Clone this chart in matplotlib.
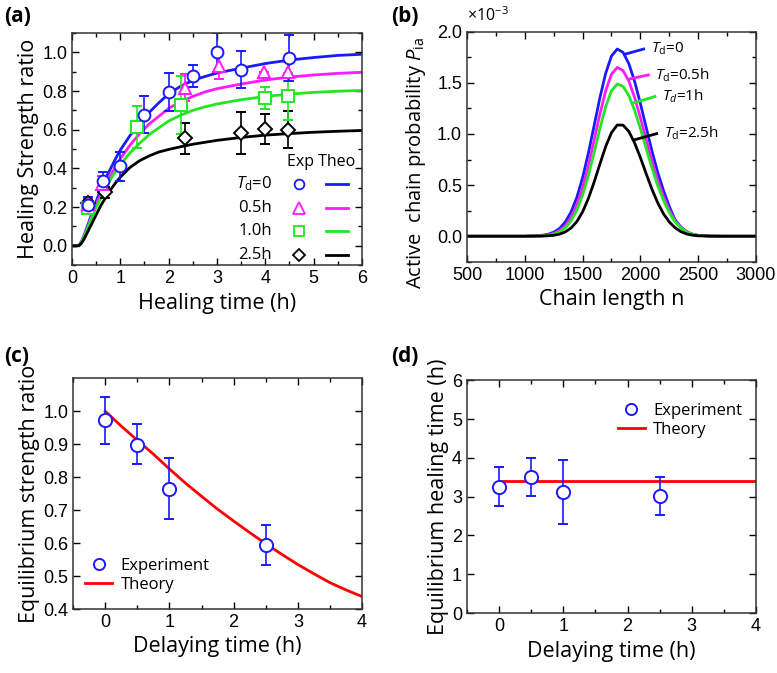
"""Four-panel healing figure: strength ratio, active chain probability, equilibrium values."""

import matplotlib
import matplotlib.pyplot as plt
from matplotlib.ticker import MultipleLocator
from matplotlib.lines import Line2D

matplotlib.use("Agg")

plt.rcParams["font.family"] = ["Liberation Sans", "DejaVu Sans"]
plt.rcParams["mathtext.fontset"] = "custom"
plt.rcParams["mathtext.it"] = "Open Sans:italic"
plt.rcParams["mathtext.rm"] = "Open Sans"

LABEL_FONT = "Open Sans"
BLUE, PINK, GREEN, BLACK, RED = "#1a1aff", "#ff1aff", "#22e622", "#000000", "#ff0000"

# ---- (a) healing strength ratio vs healing time ----
exp0_t = [0.33, 0.65, 1.0, 1.5, 2.0, 2.5, 3.0, 3.5, 4.5]
exp0_v = [0.21, 0.333, 0.41, 0.678, 0.795, 0.876, 1.0, 0.91, 0.97]
exp0_e = [0.04, 0.05, 0.075, 0.097, 0.10, 0.056, 0.10, 0.095, 0.12]

exp05_t = [0.33, 0.63, 2.34, 3.05, 3.97, 4.48]
exp05_v = [0.215, 0.32, 0.816, 0.93, 0.90, 0.90]
exp05_e = [0.03, 0.04, 0.07, 0.07, 0.0, 0.05]

exp1_t = [0.34, 1.34, 2.26, 3.99, 4.48]
exp1_v = [0.195, 0.614, 0.73, 0.764, 0.772]
exp1_e = [0.03, 0.11, 0.15, 0.058, 0.12]

exp25_t = [0.34, 0.68, 2.34, 3.49, 3.99, 4.48]
exp25_v = [0.22, 0.276, 0.557, 0.583, 0.604, 0.60]
exp25_e = [0.02, 0.03, 0.08, 0.11, 0.078, 0.095]

theo_t = [0, 0.1, 0.15, 0.2, 0.25, 0.33, 0.4, 0.5, 0.6, 0.7, 0.8, 0.9, 1.0, 1.2, 1.4,
          1.6, 1.8, 2.0, 2.25, 2.5, 2.75, 3.0, 3.5, 4.0, 4.5, 5.0, 5.5, 6.0]
theo0 = [0, 0, 0.004, 0.025, 0.055, 0.11, 0.16, 0.23, 0.295, 0.35, 0.40, 0.45, 0.495, 0.57,
         0.635, 0.69, 0.74, 0.785, 0.825, 0.855, 0.875, 0.893, 0.918, 0.942, 0.96, 0.973,
         0.984, 0.99]
theo05 = [0, 0, 0.004, 0.024, 0.052, 0.10, 0.15, 0.215, 0.27, 0.32, 0.365, 0.41, 0.45, 0.52,
          0.58, 0.63, 0.67, 0.71, 0.745, 0.772, 0.795, 0.812, 0.836, 0.857, 0.872, 0.883,
          0.891, 0.897]
theo1 = [0, 0, 0.004, 0.022, 0.048, 0.095, 0.14, 0.20, 0.25, 0.30, 0.345, 0.385, 0.42, 0.48,
         0.53, 0.575, 0.61, 0.645, 0.675, 0.70, 0.718, 0.733, 0.755, 0.772, 0.784, 0.793,
         0.799, 0.803]
theo25 = [0, 0, 0.002, 0.015, 0.035, 0.075, 0.11, 0.16, 0.21, 0.25, 0.29, 0.325, 0.355, 0.405,
          0.44, 0.465, 0.485, 0.498, 0.512, 0.525, 0.535, 0.545, 0.56, 0.572, 0.58, 0.587,
          0.592, 0.596]

legend_rows = [r"$T_{\mathrm{d}}$=0", "0.5h", "1.0h", "2.5h"]

# ---- (b) active chain probability (units of 1e-3) vs chain length ----
chain_n = [500, 1000, 1150, 1200, 1250, 1300, 1350, 1400, 1450, 1500, 1550, 1600, 1650, 1700,
           1750, 1800, 1850, 1900, 1950, 2000, 2050, 2100, 2150, 2200, 2250, 2300, 2350, 2400,
           2450, 2500, 2600, 2700, 3000]
p_td0 = [0, 0, 0.009, 0.019, 0.039, 0.075, 0.138, 0.236, 0.379, 0.572, 0.812, 1.082, 1.355,
         1.594, 1.762, 1.830, 1.797, 1.687, 1.513, 1.297, 1.063, 0.832, 0.623, 0.446, 0.29,
         0.16, 0.09, 0.045, 0.02, 0.008, 0.002, 0, 0]
p_td05 = [0, 0, 0.005, 0.012, 0.026, 0.054, 0.102, 0.182, 0.304, 0.473, 0.689, 0.939, 1.195,
          1.423, 1.584, 1.650, 1.619, 1.517, 1.357, 1.159, 0.945, 0.735, 0.546, 0.387, 0.255,
          0.15, 0.085, 0.043, 0.019, 0.008, 0.002, 0, 0]
p_td1 = [0, 0, 0.004, 0.009, 0.020, 0.042, 0.082, 0.149, 0.253, 0.401, 0.593, 0.818, 1.054,
         1.268, 1.422, 1.488, 1.465, 1.375, 1.231, 1.052, 0.857, 0.666, 0.493, 0.349, 0.23,
         0.14, 0.08, 0.04, 0.018, 0.007, 0.002, 0, 0]
p_td25 = [0, 0, 0.0015, 0.004, 0.009, 0.020, 0.042, 0.080, 0.143, 0.238, 0.369, 0.530, 0.707,
          0.878, 1.013, 1.087, 1.086, 1.024, 0.912, 0.768, 0.611, 0.459, 0.326, 0.219, 0.139,
          0.083, 0.045, 0.022, 0.01, 0.004, 0.001, 0, 0]
b_labels = [r"$T_{\mathrm{d}}$=0", r"$T_{\mathrm{d}}$=0.5h", r"$T_{d}$=1h", r"$T_{\mathrm{d}}$=2.5h"]

# ---- (c) equilibrium strength ratio vs delaying time ----
delay_exp = [0, 0.5, 1.0, 2.5]
eq_strength = [0.973, 0.899, 0.764, 0.595]
eq_strength_lo = [0.902, 0.839, 0.672, 0.533]
eq_strength_hi = [1.043, 0.960, 0.857, 0.654]
delay_theo = [0, 0.25, 0.5, 0.75, 1.0, 1.25, 1.5, 1.75, 2.0, 2.25, 2.5, 2.75, 3.0, 3.25, 3.5,
              3.75, 4.0]
eq_strength_theo = [1.0, 0.955, 0.912, 0.87, 0.825, 0.782, 0.742, 0.703, 0.667, 0.632, 0.598,
                    0.566, 0.535, 0.507, 0.48, 0.458, 0.438]

# ---- (d) equilibrium healing time vs delaying time ----
eq_time = [3.25, 3.51, 3.12, 3.01]
eq_time_lo = [2.76, 3.01, 2.30, 2.52]
eq_time_hi = [3.76, 4.00, 3.95, 3.51]
eq_time_theo_x = [0, 4]
eq_time_theo = [3.4, 3.4]


def style_axes(ax):
    ax.tick_params(which="both", direction="in", top=True, right=True, labelsize=13)
    ax.tick_params(which="major", length=5, width=1)
    ax.tick_params(which="minor", length=3, width=1)
    for s in ax.spines.values():
        s.set_linewidth(1.1)
        s.set_color("#333333")


def err_kw(color):
    return dict(ls="none", mfc="white", mec=color, ecolor=color, mew=1.4,
                elinewidth=1.2, capsize=3.5, capthick=1.2, ms=8)


fig = plt.figure(figsize=(7.77, 6.73), dpi=100)
lab_kw = dict(fontsize=15.5, family=LABEL_FONT)
txt_family = [LABEL_FONT, "DejaVu Sans"]

# (a)
ax = fig.add_axes([0.0927, 0.606, 0.373, 0.345])
for tt, th, c in [(theo_t, theo0, BLUE), (theo_t, theo05, PINK), (theo_t, theo1, GREEN),
                  (theo_t, theo25, BLACK)]:
    ax.plot(tt, th, color=c, lw=2)
ax.errorbar(exp25_t, exp25_v, yerr=exp25_e, marker="D", **{**err_kw(BLACK), "ms": 7})
ax.errorbar(exp1_t, exp1_v, yerr=exp1_e, marker="s", **err_kw(GREEN))
ax.errorbar(exp05_t, exp05_v, yerr=exp05_e, marker="^", **err_kw(PINK))
ax.errorbar(exp0_t, exp0_v, yerr=exp0_e, marker="o", **{**err_kw(BLUE), "ms": 8.5})
ax.set_xlim(0, 6)
ax.set_ylim(-0.1, 1.1)
ax.xaxis.set_major_locator(MultipleLocator(1))
ax.xaxis.set_minor_locator(MultipleLocator(0.5))
ax.yaxis.set_major_locator(MultipleLocator(0.2))
ax.yaxis.set_minor_locator(MultipleLocator(0.1))
ax.set_xlabel("Healing time (h)", **lab_kw)
ax.set_ylabel("Healing Strength ratio", labelpad=2, **lab_kw)
style_axes(ax)

# hand-built table legend
ax.text(0.86, 0.444, "Exp Theo", transform=ax.transAxes, ha="center", va="center",
        fontsize=11.5, family=txt_family)
row_y = [0.349, 0.246, 0.147, 0.043]
row_style = [("o", BLUE, 7), ("^", PINK, 8), ("s", GREEN, 6.5), ("D", BLACK, 6.5)]
for label, yy, (mk, c, ms) in zip(legend_rows, row_y, row_style):
    ax.text(0.69, yy, label, transform=ax.transAxes, ha="right", va="center",
            fontsize=12, family=txt_family)
    ax.plot([0.783], [yy], marker=mk, ms=ms, mfc="white", mec=c, mew=1.3,
            transform=ax.transAxes, clip_on=False)
    ax.plot([0.876, 0.952], [yy, yy], color=c, lw=2, transform=ax.transAxes)

# (b)
ax = fig.add_axes([0.601, 0.611, 0.372, 0.342])
for p, c in [(p_td0, BLUE), (p_td05, PINK), (p_td1, GREEN), (p_td25, BLACK)]:
    ax.plot(chain_n, p, color=c, lw=2)
leaders = [((1869, 2028), (1.78, 1.83), BLUE),
           ((1899, 2069), (1.535, 1.577), PINK),
           ((1930, 2126), (1.30, 1.366), GREEN),
           ((1953, 2141), (0.944, 1.003), BLACK)]
for (lx, ly, c), lab in zip(leaders, b_labels):
    ax.plot(lx, ly, color=c, lw=2)
    ax.text(lx[1] + 60, ly[1], lab, ha="left", va="center", fontsize=11,
            family=txt_family)
ax.set_xlim(500, 3000)
ax.set_ylim(-0.25, 2.0)
ax.xaxis.set_major_locator(MultipleLocator(500))
ax.xaxis.set_minor_locator(MultipleLocator(250))
ax.yaxis.set_major_locator(MultipleLocator(0.5))
ax.yaxis.set_minor_locator(MultipleLocator(0.25))
ax.set_xlabel("Chain length n", **lab_kw)
ax.set_ylabel(r"Active  chain probability $P_{\mathrm{ia}}$", fontsize=14.5, family=LABEL_FONT)
ax.yaxis.set_label_coords(-0.135, 0.43)
ax.text(0.0, 1.03, r"$\times$10$^{-3}$", transform=ax.transAxes, ha="left", va="bottom",
        fontsize=11.5, family=txt_family)
style_axes(ax)

# (c)
ax = fig.add_axes([0.094, 0.095, 0.372, 0.343])
ax.plot(delay_theo, eq_strength_theo, color=RED, lw=2, label="Theory")
yerr_c = [[v - lo for v, lo in zip(eq_strength, eq_strength_lo)],
          [hi - v for v, hi in zip(eq_strength, eq_strength_hi)]]
ax.errorbar(delay_exp, eq_strength, yerr=yerr_c, marker="o", label="Experiment",
            **{**err_kw(BLUE), "ms": 9.5})
ax.set_xlim(-0.5, 4)
ax.set_ylim(0.4, 1.1)
ax.xaxis.set_major_locator(MultipleLocator(1))
ax.xaxis.set_minor_locator(MultipleLocator(0.5))
ax.set_yticks([0.4, 0.5, 0.6, 0.7, 0.8, 0.9, 1.0])
ax.set_xlabel("Delaying time (h)", **lab_kw)
ax.set_ylabel("Equilibrium strength ratio", labelpad=2, **lab_kw)
style_axes(ax)
handles = [Line2D([], [], ls="none", marker="o", ms=8, mfc="white", mec=BLUE, mew=1.4),
           Line2D([], [], color=RED, lw=2)]
ax.legend(handles, ["Experiment", "Theory"], loc="upper left", bbox_to_anchor=(0.02, 0.25),
          frameon=False, prop={"family": LABEL_FONT, "size": 12}, handlelength=1.6,
          handletextpad=0.5, labelspacing=0.15, borderaxespad=0)

# (d)
ax = fig.add_axes([0.601, 0.089, 0.372, 0.346])
ax.plot(eq_time_theo_x, eq_time_theo, color=RED, lw=2)
yerr_d = [[v - lo for v, lo in zip(eq_time, eq_time_lo)],
          [hi - v for v, hi in zip(eq_time, eq_time_hi)]]
ax.errorbar(delay_exp, eq_time, yerr=yerr_d, marker="o", **{**err_kw(BLUE), "ms": 9.5})
ax.set_xlim(-0.5, 4)
ax.set_ylim(0, 6)
ax.xaxis.set_major_locator(MultipleLocator(1))
ax.xaxis.set_minor_locator(MultipleLocator(0.5))
ax.yaxis.set_major_locator(MultipleLocator(1))
ax.set_xlabel("Delaying time (h)", **lab_kw)
ax.set_ylabel("Equilibrium healing time (h)", labelpad=2, **lab_kw)
style_axes(ax)
ax.legend(handles, ["Experiment", "Theory"], loc="upper left", bbox_to_anchor=(0.5, 0.93),
          frameon=False, prop={"family": LABEL_FONT, "size": 12}, handlelength=1.6,
          handletextpad=0.5, labelspacing=0.15, borderaxespad=0)

for lab, x, y in [("(a)", 0.005, 0.975), ("(b)", 0.503, 0.975), ("(c)", 0.005, 0.47),
                  ("(d)", 0.503, 0.47)]:
    fig.text(x, y, lab, fontsize=15, fontweight="bold", family=LABEL_FONT, va="center")

fig.savefig("out.png", dpi=100)
plt.close(fig)
